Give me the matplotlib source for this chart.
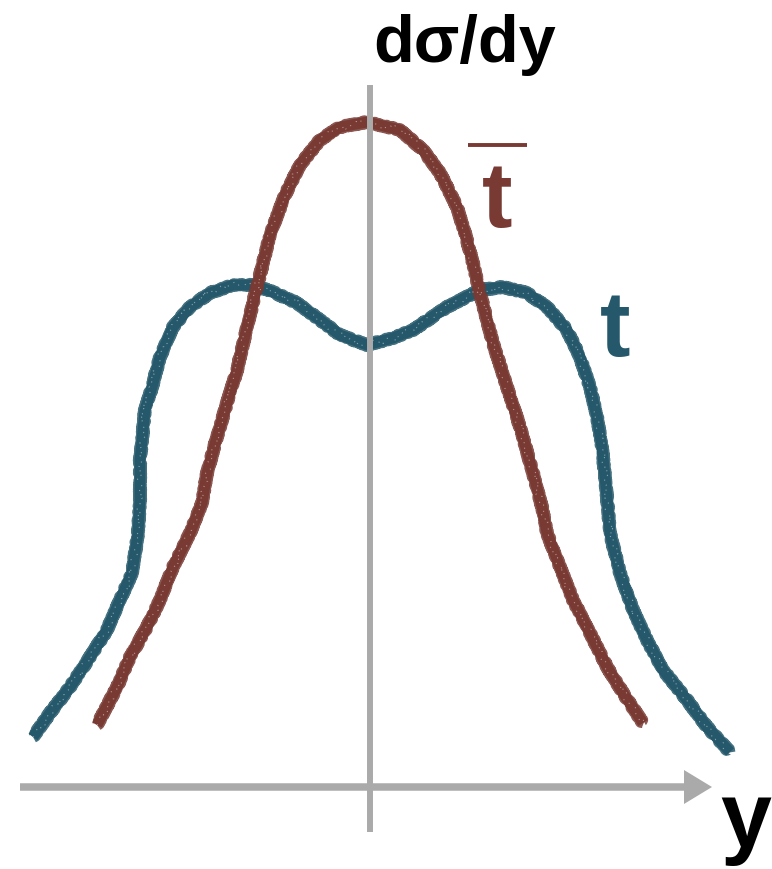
import numpy as np
import matplotlib
matplotlib.use("Agg")
import matplotlib.pyplot as plt

plt.rcParams['font.family'] = ['Liberation Sans', 'DejaVu Sans']

# rapidity distributions, top and anti-top (arbitrary units)
tbar_y = [-2.73, -2.53, -2.40, -2.23, -2.10, -1.97, -1.80, -1.68, -1.63, -1.53,
          -1.43, -1.33, -1.23, -1.13, -1.07, -1.00, -0.85, -0.70, -0.50, -0.30,
          -0.03, 0.30, 0.53, 0.70, 0.87, 0.97, 1.03, 1.10, 1.23, 1.37,
          1.50, 1.63, 1.72, 1.77, 1.90, 2.03, 2.20, 2.37, 2.53, 2.73]
tbar_xs = [0.62, 1.00, 1.30, 1.60, 1.87, 2.20, 2.54, 2.84, 3.14, 3.50,
           3.84, 4.17, 4.60, 5.00, 5.24, 5.52, 5.92, 6.22, 6.47, 6.60,
           6.65, 6.57, 6.37, 6.14, 5.80, 5.47, 5.24, 4.94, 4.44, 4.00,
           3.60, 3.14, 2.80, 2.54, 2.20, 1.87, 1.54, 1.20, 0.94, 0.64]

top_y = [-3.37, -3.20, -3.00, -2.80, -2.63, -2.50, -2.38, -2.32, -2.30, -2.30,
         -2.25, -2.18, -2.10, -1.97, -1.80, -1.60, -1.37, -1.17, -0.97, -0.73,
         -0.50, -0.30, -0.03, 0.23, 0.43, 0.77, 1.10, 1.33, 1.57, 1.77,
         1.97, 2.10, 2.20, 2.27, 2.32, 2.35, 2.38, 2.40, 2.50, 2.63,
         2.77, 2.93, 3.17, 3.37, 3.60]
top_xs = [0.50, 0.74, 1.00, 1.30, 1.57, 1.87, 2.14, 2.54, 2.87, 3.27,
          3.77, 4.00, 4.30, 4.60, 4.80, 4.94, 5.02, 5.02, 4.95, 4.84,
          4.67, 4.52, 4.42, 4.49, 4.57, 4.80, 4.97, 5.00, 4.94, 4.80,
          4.57, 4.30, 4.00, 3.70, 3.40, 3.10, 2.79, 2.54, 2.14, 1.77,
          1.47, 1.17, 0.87, 0.60, 0.35]

red = '#783a33'
teal = '#24586a'
grey = '#aaaaaa'

fig = plt.figure(figsize=(7.72, 8.69), dpi=100)
ax = fig.add_axes([0, 0, 1, 1])
ax.set_xlim(-3.70, 4.02)
ax.set_ylim(-0.82, 7.87)
ax.axis('off')


def chalk(x, y, color):
    # solid core plus a ragged rim and a few pale specks
    ax.plot(x, y, color=color, lw=7.8, solid_joinstyle='round',
            solid_capstyle='butt', zorder=2)
    rim, = ax.plot(x, y, color=color, lw=8.6, alpha=0.85,
                   solid_joinstyle='round', solid_capstyle='butt', zorder=2)
    rim.set_sketch_params(scale=1.2, length=2.5, randomness=6)
    speck, = ax.plot(x, y, color='white', lw=0.8, alpha=0.45,
                     dashes=(1, 9), zorder=3)
    speck.set_sketch_params(scale=3, length=4, randomness=8)


chalk(top_y, top_xs, teal)
chalk(tbar_y, tbar_xs, red)

# axes
ax.plot([0, 0], [-0.45, 7.02], color=grey, lw=4.3, solid_capstyle='butt', zorder=4)
ax.arrow(-3.50, 0, 6.92, 0, width=0.075, head_width=0.34, head_length=0.28,
         length_includes_head=True, color=grey, lw=0, zorder=4)

# labels
ax.text(0.95, 7.25, 'dσ/dy', fontsize=48, fontweight='bold', color='black',
        ha='center', va='baseline')
ax.text(3.50, -0.60, 'y', fontsize=66, fontweight='bold', color='black',
        ha='left', va='baseline')
ax.text(2.45, 4.31, 't', fontsize=66, fontweight='bold', color=teal,
        ha='center', va='baseline')
ax.text(1.27, 5.60, 't', fontsize=66, fontweight='bold', color=red,
        ha='center', va='baseline')
ax.plot([0.98, 1.57], [6.42, 6.42], color=red, lw=2.8, solid_capstyle='butt')

fig.savefig('out.png', dpi=100, facecolor='white')
